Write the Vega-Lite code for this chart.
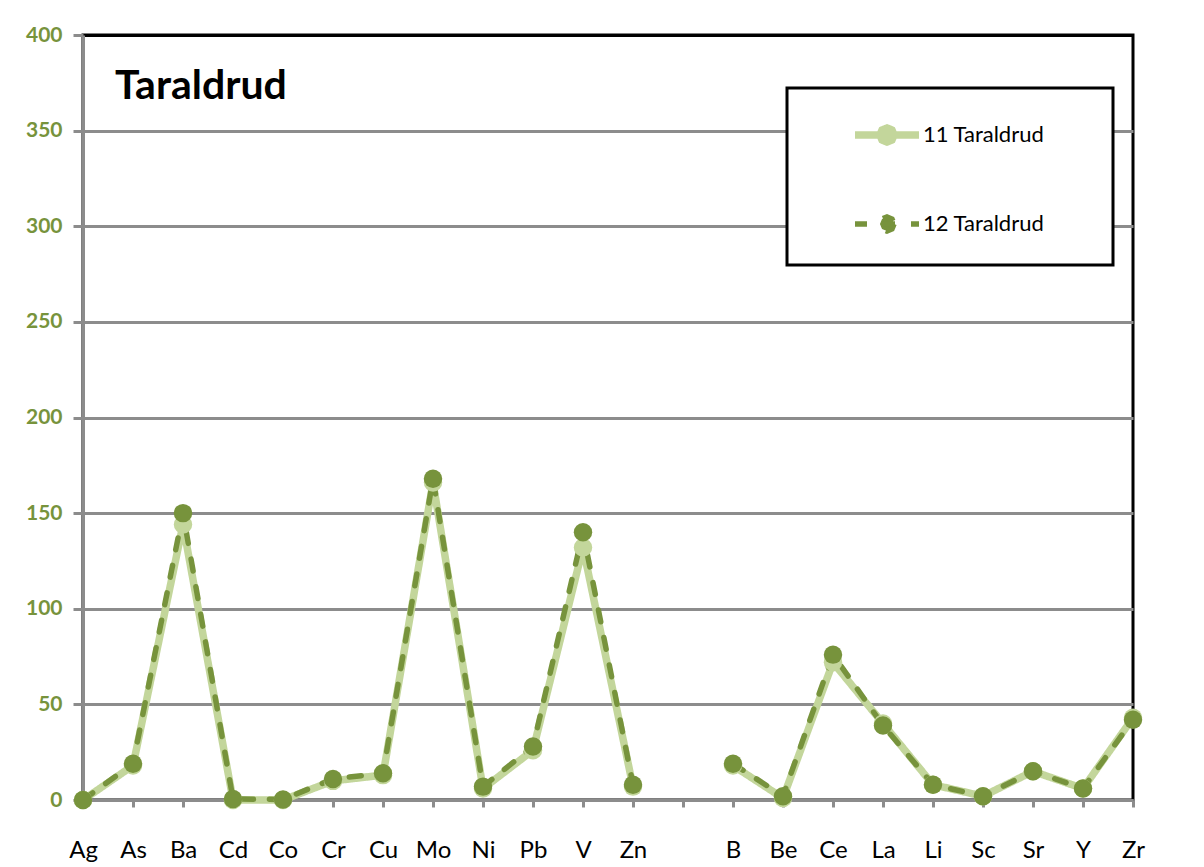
{
  "$schema": "https://vega.github.io/schema/vega-lite/v6.json",
  "autosize": {"type": "none"},
  "width": 1050,
  "height": 765,
  "padding": {"left": 83, "top": 35, "right": 71, "bottom": 67},
  "background": "white",
  "title": {
    "text": "Taraldrud",
    "anchor": "start",
    "frame": "group",
    "font": "Lato",
    "fontSize": 41,
    "fontWeight": "bold",
    "color": "black",
    "baseline": "alphabetic",
    "offset": -116,
    "dx": 32
  },
  "config": {
    "font": "Lato",
    "view": {"stroke": "black", "strokeWidth": 3},
    "axis": {
      "domainColor": "#8c8c8c",
      "domainWidth": 3,
      "tickColor": "#8c8c8c",
      "tickWidth": 3,
      "gridColor": "#8c8c8c",
      "gridWidth": 3
    }
  },
  "data": {
    "values": [
      {"element": "Ag", "sample": "11 Taraldrud", "value": 0},
      {"element": "As", "sample": "11 Taraldrud", "value": 18},
      {"element": "Ba", "sample": "11 Taraldrud", "value": 144},
      {"element": "Cd", "sample": "11 Taraldrud", "value": 0},
      {"element": "Co", "sample": "11 Taraldrud", "value": 0},
      {"element": "Cr", "sample": "11 Taraldrud", "value": 10},
      {"element": "Cu", "sample": "11 Taraldrud", "value": 13},
      {"element": "Mo", "sample": "11 Taraldrud", "value": 166},
      {"element": "Ni", "sample": "11 Taraldrud", "value": 6},
      {"element": "Pb", "sample": "11 Taraldrud", "value": 26},
      {"element": "V", "sample": "11 Taraldrud", "value": 132},
      {"element": "Zn", "sample": "11 Taraldrud", "value": 7},
      {"element": " ", "sample": "11 Taraldrud", "value": null},
      {"element": "B", "sample": "11 Taraldrud", "value": 18},
      {"element": "Be", "sample": "11 Taraldrud", "value": 1},
      {"element": "Ce", "sample": "11 Taraldrud", "value": 72},
      {"element": "La", "sample": "11 Taraldrud", "value": 40},
      {"element": "Li", "sample": "11 Taraldrud", "value": 8},
      {"element": "Sc", "sample": "11 Taraldrud", "value": 2},
      {"element": "Sr", "sample": "11 Taraldrud", "value": 15},
      {"element": "Y", "sample": "11 Taraldrud", "value": 6},
      {"element": "Zr", "sample": "11 Taraldrud", "value": 43},
      {"element": "Ag", "sample": "12 Taraldrud", "value": 0},
      {"element": "As", "sample": "12 Taraldrud", "value": 19},
      {"element": "Ba", "sample": "12 Taraldrud", "value": 150},
      {"element": "Cd", "sample": "12 Taraldrud", "value": 0.5},
      {"element": "Co", "sample": "12 Taraldrud", "value": 0.3},
      {"element": "Cr", "sample": "12 Taraldrud", "value": 11},
      {"element": "Cu", "sample": "12 Taraldrud", "value": 14},
      {"element": "Mo", "sample": "12 Taraldrud", "value": 168},
      {"element": "Ni", "sample": "12 Taraldrud", "value": 7},
      {"element": "Pb", "sample": "12 Taraldrud", "value": 28},
      {"element": "V", "sample": "12 Taraldrud", "value": 140},
      {"element": "Zn", "sample": "12 Taraldrud", "value": 8},
      {"element": " ", "sample": "12 Taraldrud", "value": null},
      {"element": "B", "sample": "12 Taraldrud", "value": 19},
      {"element": "Be", "sample": "12 Taraldrud", "value": 2},
      {"element": "Ce", "sample": "12 Taraldrud", "value": 76},
      {"element": "La", "sample": "12 Taraldrud", "value": 39},
      {"element": "Li", "sample": "12 Taraldrud", "value": 8},
      {"element": "Sc", "sample": "12 Taraldrud", "value": 2},
      {"element": "Sr", "sample": "12 Taraldrud", "value": 15},
      {"element": "Y", "sample": "12 Taraldrud", "value": 6},
      {"element": "Zr", "sample": "12 Taraldrud", "value": 42}
    ]
  },
  "encoding": {
    "x": {
      "field": "element",
      "type": "nominal",
      "sort": ["Ag", "As", "Ba", "Cd", "Co", "Cr", "Cu", "Mo", "Ni", "Pb", "V", "Zn", " ", "B", "Be", "Ce", "La", "Li", "Sc", "Sr", "Y", "Zr"],
      "scale": {"type": "point", "padding": 0},
      "axis": {
        "title": null,
        "labelAngle": 0,
        "labelFont": "Lato",
        "labelFontSize": 24,
        "labelColor": "black",
        "tickSize": 7,
        "labelPadding": 31,
        "grid": false,
        "zindex": 0
      }
    },
    "y": {
      "field": "value",
      "type": "quantitative",
      "scale": {"domain": [0, 400], "nice": false, "zero": true},
      "axis": {
        "title": null,
        "values": [0, 50, 100, 150, 200, 250, 300, 350, 400],
        "labelFont": "Lato",
        "labelFontSize": 21,
        "labelFontWeight": "bold",
        "labelColor": "#77933c",
        "tickSize": 10,
        "labelPadding": 11,
        "grid": true,
        "gridColor": {"condition": {"test": "datum.value == 400", "value": "black"}, "value": "#8c8c8c"},
        "zindex": 0
      }
    },
    "color": {
      "field": "sample",
      "type": "nominal",
      "scale": {"domain": ["11 Taraldrud", "12 Taraldrud"], "range": ["#c3d69b", "#77933c"]},
      "legend": {
        "title": " ",
        "titleOrient": "right",
        "titleFontSize": 165,
        "titlePadding": 58,
        "orient": "none",
        "legendX": 704,
        "legendY": 53,
        "padding": 11,
        "strokeColor": "black",
        "fillColor": "white",
        "labelFont": "Lato",
        "labelFontSize": 22,
        "labelColor": "black",
        "symbolType": "M-1,0L1,0M0.22,0L0.156,0.156L0,0.22L-0.156,0.156L-0.22,0L-0.156,-0.156L0,-0.22L0.156,-0.156Z",
        "symbolSize": 4096,
        "symbolStrokeWidth": 6,
        "symbolOffset": 53,
        "labelOffset": 0,
        "rowPadding": 31,
        "encode": {
          "legend": {"update": {"strokeWidth": {"value": 3}}}
        }
      }
    }
  },
  "layer": [
    {
      "mark": {"type": "line", "invalid": "break-paths-show-domains", "strokeCap": "round", "strokeJoin": "round"},
      "encoding": {
        "strokeDash": {
          "field": "sample",
          "type": "nominal",
          "scale": {"domain": ["11 Taraldrud", "12 Taraldrud"], "range": [[1, 0], [12, 16]]},
          "legend": null
        },
        "strokeWidth": {
          "field": "sample",
          "type": "nominal",
          "scale": {"domain": ["11 Taraldrud", "12 Taraldrud"], "range": [7.5, 5.5]},
          "legend": null
        }
      }
    },
    {
      "mark": {"type": "point", "filled": true, "opacity": 1, "size": 340, "shape": "circle"}
    }
  ]
}
